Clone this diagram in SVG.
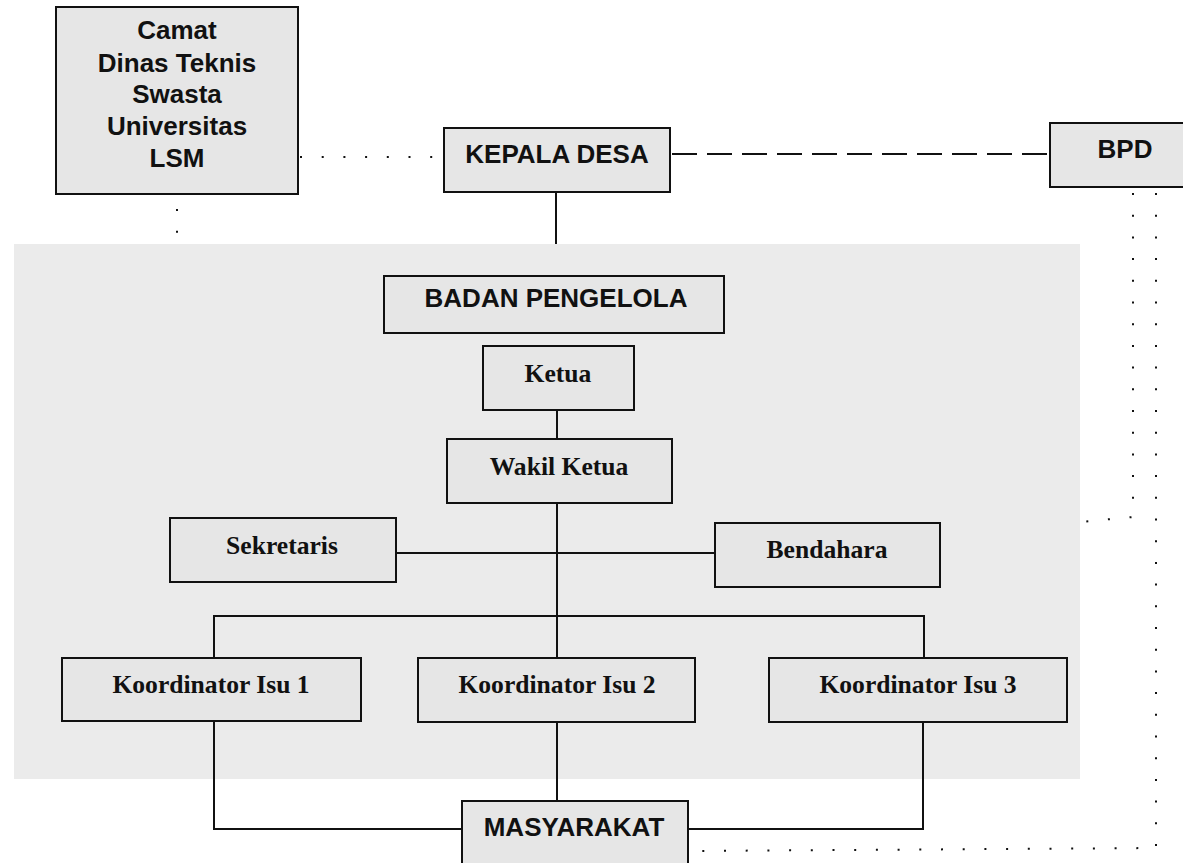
<svg xmlns="http://www.w3.org/2000/svg" width="1183" height="863" viewBox="0 0 1183 863">
<style>
.box{fill:#e6e6e6;stroke:#111;stroke-width:2}
.sans{font-family:"Liberation Sans",Arial,sans-serif;font-weight:bold;font-size:26px;fill:#111;text-anchor:middle}
.serif{font-family:"Liberation Serif","Times New Roman",serif;font-weight:bold;font-size:25.6px;fill:#111;text-anchor:middle}
.line{fill:none;stroke:#111;stroke-width:2}
.dot{fill:none;stroke:#111;stroke-width:2;stroke-dasharray:2 19.7}
.dash{fill:none;stroke:#111;stroke-width:2;stroke-dasharray:25 10}
</style>
<rect x="0" y="0" width="1183" height="863" fill="#ffffff"/>
<rect id="area" x="14" y="244" width="1066" height="535" fill="#ebebeb"/>
<g id="connectors">
<path class="dot" d="M300 157 H444"/>
<path class="dot" d="M177 209 V240"/>
<path class="dash" d="M672 154 H1050"/>
<path class="line" d="M556 192 V244"/>
<path class="line" d="M557 410 V439"/>
<path class="line" d="M557 503 V658"/>
<path class="line" d="M396 553 H715"/>
<path class="line" d="M214 658 V616 H924 V658"/>
<path class="line" d="M214 721 V829 H462"/>
<path class="line" d="M557 722 V801"/>
<path class="line" d="M923 722 V829 H688"/>
<path class="dot" d="M1133 193 V517 L1080 522"/>
<path class="dot" d="M1156 193 V848 L688 851"/>
</g>
<g id="camat">
<rect class="box" x="56" y="7" width="242" height="187"/>
<text class="sans" x="177" y="39">Camat</text>
<text class="sans" x="177" y="72">Dinas Teknis</text>
<text class="sans" x="177" y="103">Swasta</text>
<text class="sans" x="177" y="135">Universitas</text>
<text class="sans" x="177" y="167">LSM</text>
</g>
<g id="kepala-desa">
<rect class="box" x="444" y="128" width="226" height="64"/>
<text class="sans" x="557" y="163">KEPALA DESA</text>
</g>
<g id="bpd">
<rect class="box" x="1050" y="123" width="150" height="64"/>
<text class="sans" x="1125" y="158">BPD</text>
</g>
<g id="badan-pengelola">
<rect class="box" x="384" y="276" width="340" height="57"/>
<text class="sans" x="556" y="307">BADAN PENGELOLA</text>
</g>
<g id="ketua">
<rect class="box" x="483" y="346" width="151" height="64"/>
<text class="serif" x="558" y="382">Ketua</text>
</g>
<g id="wakil-ketua">
<rect class="box" x="447" y="439" width="225" height="64"/>
<text class="serif" x="559" y="475">Wakil Ketua</text>
</g>
<g id="sekretaris">
<rect class="box" x="170" y="518" width="226" height="64"/>
<text class="serif" x="282" y="554">Sekretaris</text>
</g>
<g id="bendahara">
<rect class="box" x="715" y="523" width="225" height="64"/>
<text class="serif" x="827" y="558">Bendahara</text>
</g>
<g id="koordinator-1">
<rect class="box" x="62" y="658" width="299" height="63"/>
<text class="serif" x="211" y="693">Koordinator Isu 1</text>
</g>
<g id="koordinator-2">
<rect class="box" x="418" y="658" width="277" height="64"/>
<text class="serif" x="557" y="693">Koordinator Isu 2</text>
</g>
<g id="koordinator-3">
<rect class="box" x="769" y="658" width="298" height="64"/>
<text class="serif" x="918" y="693">Koordinator Isu 3</text>
</g>
<g id="masyarakat">
<rect class="box" x="462" y="801" width="226" height="80"/>
<text class="sans" x="574" y="836">MASYARAKAT</text>
</g>
</svg>
